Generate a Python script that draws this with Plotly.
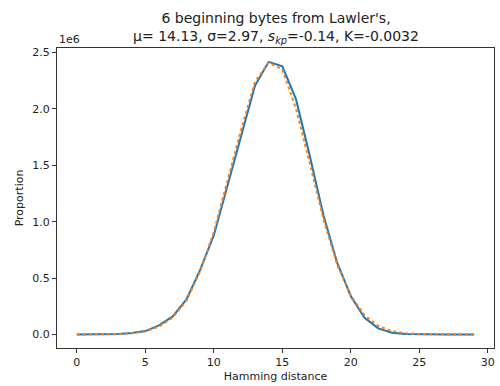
import plotly.graph_objects as go

hamming = list(range(30))
observed = [0.0005, 0.001, 0.002, 0.005, 0.013, 0.030, 0.080, 0.160, 0.310, 0.573,
            0.880, 1.326, 1.777, 2.206, 2.417, 2.378, 2.084, 1.585, 1.057, 0.636,
            0.339, 0.148, 0.054, 0.016, 0.005, 0.002, 0.001, 0.0005, 0.0002, 0.0001]
expected = [0.0002, 0.0005, 0.001, 0.003, 0.010, 0.027, 0.070, 0.150, 0.300, 0.560,
            0.910, 1.370, 1.820, 2.240, 2.410, 2.350, 2.000, 1.520, 1.020, 0.620,
            0.345, 0.170, 0.075, 0.030, 0.010, 0.003, 0.001, 0.0005, 0.0002, 0.0001]
observed = [v * 1e6 for v in observed]
expected = [v * 1e6 for v in expected]

xticks = [0, 5, 10, 15, 20, 25, 30]
yticks = [0.0, 0.5, 1.0, 1.5, 2.0, 2.5]

font = "DejaVu Sans"
fig = go.Figure()
fig.add_trace(go.Scatter(x=hamming, y=observed, mode="lines",
                         line=dict(color="#1f77b4", width=2), showlegend=False))
fig.add_trace(go.Scatter(x=hamming, y=expected, mode="lines",
                         line=dict(color="#ff7f0e", width=2, dash="dot"), showlegend=False))

axis_common = dict(showline=True, linecolor="#333", linewidth=1, mirror=True,
                   ticks="outside", ticklen=4, tickcolor="#333", tickwidth=1,
                   showgrid=False, zeroline=False,
                   tickfont=dict(family=font, size=11, color="#222"))
fig.update_xaxes(range=[-1.45, 30.45], tickvals=xticks, ticktext=[str(t) for t in xticks],
                 title=dict(text="Hamming distance", font=dict(family=font, size=11, color="#222"),
                            standoff=4), **axis_common)
fig.update_yaxes(range=[-0.12e6, 2.54e6], tickvals=[t * 1e6 for t in yticks],
                 ticktext=[f"{t:.1f}" for t in yticks],
                 title=dict(text="Proportion", font=dict(family=font, size=11, color="#222"),
                            standoff=6), **axis_common)
fig.update_layout(
    width=500, height=386,
    margin=dict(l=57, r=5, t=48, b=36),
    paper_bgcolor="white", plot_bgcolor="white",
    title=dict(text="6 beginning bytes from Lawler's,<br>μ= 14.13, σ=2.97, <i>s</i><sub><i>kp</i></sub>=-0.14, K=-0.0032",
               x=0.552, xanchor="center", y=0.94, yanchor="top",
               font=dict(family=font, size=14, color="#222")),
    annotations=[dict(text="1e6", xref="paper", yref="paper", x=0, y=1, xanchor="left",
                      yanchor="bottom", showarrow=False,
                      font=dict(family=font, size=11, color="#222"))],
)
fig.write_html("out.html")
